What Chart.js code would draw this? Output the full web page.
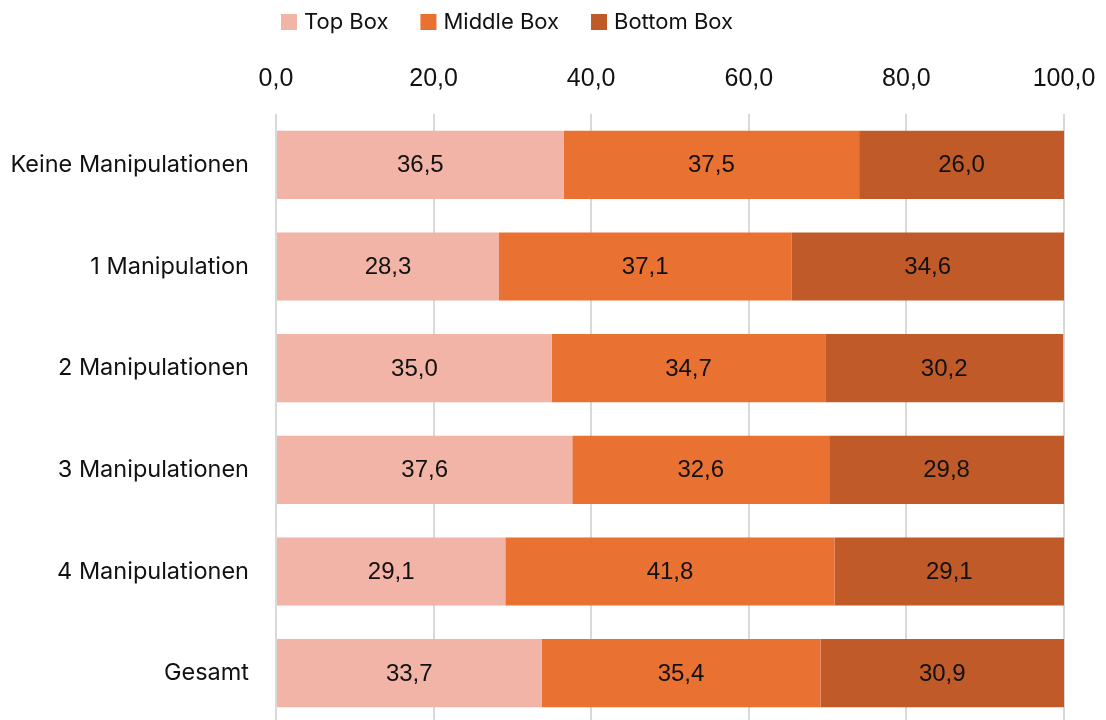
<!DOCTYPE html>
<html>
<head>
<meta charset="utf-8">
<script src="https://cdn.jsdelivr.net/npm/chart.js@4"></script>
<style>
  html, body { margin: 0; padding: 0; background: #fff; overflow: hidden; }
</style>
</head>
<body>
<!-- canvas is a few pixels taller than the window: the last category band is cut at the edge -->
<canvas id="c" width="1106" height="724"></canvas>
<script>
const categories = ['Keine Manipulationen', '1 Manipulation', '2 Manipulationen', '3 Manipulationen', '4 Manipulationen', 'Gesamt'];
const seriesNames = ['Top Box', 'Middle Box', 'Bottom Box'];
const topBox    = [36.5, 28.3, 35.0, 37.6, 29.1, 33.7];
const middleBox = [37.5, 37.1, 34.7, 32.6, 41.8, 35.4];
const bottomBox = [26.0, 34.6, 30.2, 29.8, 29.1, 30.9];
const seriesColors = ['#F1B4A6', '#E97132', '#C05B29'];
const xTicks = [0, 20, 40, 60, 80, 100];

const fmt = v => v.toFixed(1).replace('.', ',');

// Value labels centred in each bar segment
const segmentLabels = {
  id: 'segmentLabels',
  afterDatasetsDraw(chart) {
    const ctx = chart.ctx;
    ctx.save();
    ctx.font = '24px "Liberation Sans", Arial, sans-serif';
    ctx.fillStyle = '#111';
    ctx.textAlign = 'center';
    ctx.textBaseline = 'middle';
    chart.data.datasets.forEach((ds, di) => {
      chart.getDatasetMeta(di).data.forEach((bar, i) => {
        const cx = (bar.x + bar.base) / 2;
        ctx.fillText(fmt(ds.data[i]), cx, bar.y + 1);
      });
    });
    ctx.restore();
  }
};

// Legend row across the top
const topLegend = {
  id: 'topLegend',
  afterDraw(chart) {
    const ctx = chart.ctx;
    ctx.save();
    ctx.font = '22px Inter, "Noto Sans", sans-serif';
    ctx.textBaseline = 'middle';
    ctx.textAlign = 'left';
    let x = 281;
    const y = 22;
    chart.data.datasets.forEach(ds => {
      ctx.fillStyle = ds.backgroundColor;
      ctx.fillRect(x, y - 8, 16, 16);
      ctx.fillStyle = '#111';
      const tx = x + 23;
      ctx.fillText(ds.label, tx, y);
      x = tx + ctx.measureText(ds.label).width + 32;
    });
    ctx.restore();
  }
};

new Chart(document.getElementById('c'), {
  type: 'bar',
  data: {
    labels: categories,
    datasets: [
      { label: seriesNames[0], data: topBox,    backgroundColor: seriesColors[0] },
      { label: seriesNames[1], data: middleBox, backgroundColor: seriesColors[1] },
      { label: seriesNames[2], data: bottomBox, backgroundColor: seriesColors[2] }
    ]
  },
  options: {
    indexAxis: 'y',
    responsive: false,
    animation: false,
    layout: { padding: { top: 0, left: 0, right: 42, bottom: 0 } },
    datasets: { bar: { categoryPercentage: 1.0, barPercentage: 0.67, borderWidth: 0 } },
    plugins: { legend: { display: false }, tooltip: { enabled: false } },
    scales: {
      x: {
        position: 'top',
        stacked: true,
        min: 0,
        max: 100,
        afterBuildTicks: s => { s.ticks = xTicks.map(v => ({ value: v })); },
        afterFit: s => {
          s.height = 114;
          s.paddingLeft = 0; s.paddingRight = 0; s.paddingTop = 0; s.paddingBottom = 0;
        },
        grid: { color: '#d9d9d9', lineWidth: 2, drawTicks: false },
        border: { display: false },
        ticks: {
          padding: 20,
          color: '#111',
          maxRotation: 0,
          font: { family: '"Liberation Sans", Arial, sans-serif', size: 25 },
          callback: v => fmt(v)
        }
      },
      y: {
        stacked: true,
        afterFit: s => {
          s.width = 276;
          s.paddingLeft = 0; s.paddingRight = 0; s.paddingTop = 0; s.paddingBottom = 0;
        },
        grid: { display: false, drawTicks: false },
        border: { display: false },
        ticks: {
          padding: 27,
          color: '#111',
          font: { family: 'Inter, "Noto Sans", sans-serif', size: 23.5 }
        }
      }
    }
  },
  plugins: [segmentLabels, topLegend]
});
</script>
</body>
</html>
